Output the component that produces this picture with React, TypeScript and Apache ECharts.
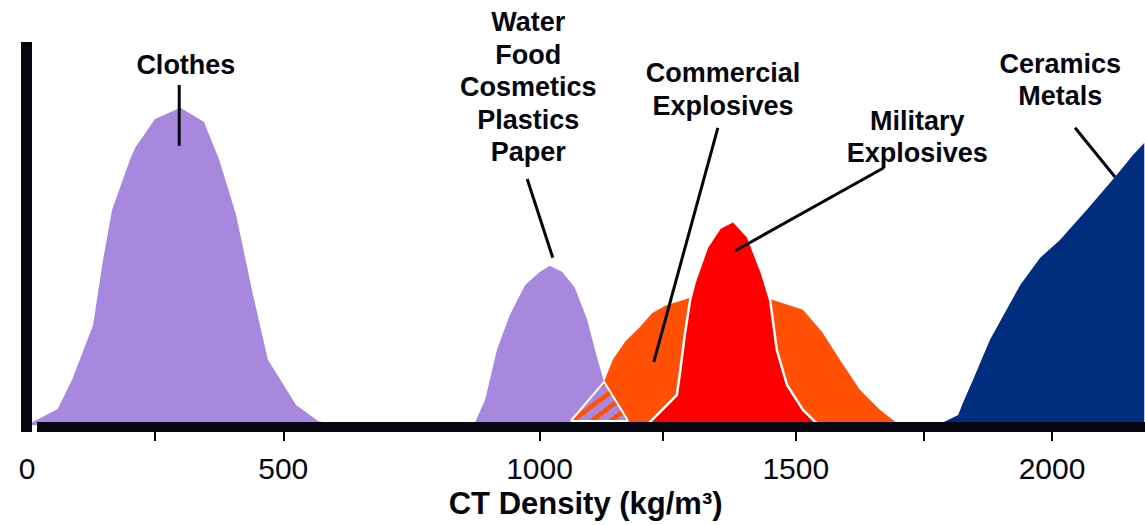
import React, { useEffect, useRef } from "react";
import * as echarts from "echarts";

const FONT = '"Liberation Sans", Arial, Helvetica, sans-serif';
const INK = "#05060f";
const PURPLE = "#a887df";
const ORANGE = "#ff5005";
const RED = "#ff0000";
const NAVY = "#002d7e";

// CT density (kg/m3) vs relative frequency (0-100)
const clothes: [number, number][] = [
  [0, 0], [60, 4], [88, 11.3], [129, 25], [148, 41], [166, 53.8], [201, 66.3], [211, 69.3],
  [250, 76.5], [299, 79.3], [345, 75.8], [375, 66.3], [408, 52.5], [441, 32.5], [470, 16.3],
  [525, 5], [568, 1], [600, 0],
];
const waterEtc: [number, number][] = [
  [872, 0], [894, 6.3], [917, 18.8], [942, 27.5], [972, 35], [1001, 38.3], [1020, 39.8],
  [1044, 38.3], [1069, 34.3], [1093, 26.3], [1112, 17], [1126, 10.8], [1173, 0],
];
const commercial: [number, number][] = [
  [1061, 0], [1126, 10.8], [1143, 16.3], [1167, 20.8], [1196, 24.5], [1220, 28], [1245, 29.8],
  [1294, 31.8], [1372, 32.3], [1454, 31.3], [1514, 28.8], [1551, 23.3], [1586, 16.3],
  [1625, 8.8], [1664, 3.8], [1694, 0.8], [1704, 0],
];
const overlap: [number, number][] = [[1061, 1], [1126, 10.8], [1173, 1], [1061, 1]];
const military: [number, number][] = [
  [1210, 0], [1216, 0.8], [1268, 7.5], [1274, 13], [1284, 23], [1294, 31.3], [1303, 35.8],
  [1327, 44.5], [1352, 49.3], [1378, 51], [1407, 47], [1434, 38], [1450, 31.3], [1463, 18.8],
  [1483, 10], [1514, 3.8], [1538, 0.8], [1545, 0],
];
const ceramics: [number, number][] = [
  [1762, 0], [1785, 0.5], [1817, 2.5], [1826, 5.5], [1846, 11.3], [1879, 21.3], [1938, 35],
  [1977, 41.8], [2016, 46.3], [2068, 53.8], [2123, 62], [2158, 67.5], [2180, 70.5],
];

const xTicks = [250, 500, 1000, 1240, 1500, 1750, 2000];
const xLabels = [0, 500, 1000, 1500, 2000];

const annotationTexts = [
  "Clothes",
  "Water\nFood\nCosmetics\nPlastics\nPaper",
  "Commercial\nExplosives",
  "Military\nExplosives",
  "Ceramics\nMetals",
];
const annotationAnchors: [number, number][] = [
  [310, 90], [978, 84.5], [1358, 83.9], [1737, 72], [2016, 86.3],
];
const leaderFrom: [number, number][] = [
  [297, 85], [976, 61.5], [1348, 74.3], [1672, 64.3], [2045, 74.3],
];
const leaderTo: [number, number][] = [
  [297, 69.8], [1026, 41.8], [1223, 15.8], [1381, 43.5], [2123, 62],
];

function stripeGradient() {
  const stops: { offset: number; color: string }[] = [];
  const n = 6;
  for (let i = 0; i < n; i++) {
    const a = i / n;
    const b = (i + 0.6) / n;
    const c = (i + 1) / n;
    stops.push({ offset: a, color: PURPLE }, { offset: b, color: PURPLE });
    stops.push({ offset: b, color: ORANGE }, { offset: c, color: ORANGE });
  }
  return new echarts.graphic.LinearGradient(0, 0, 1, 1, stops);
}

function area(name: string, data: [number, number][], color: any, line?: any) {
  return {
    name,
    type: "line",
    data,
    symbol: "none",
    silent: true,
    lineStyle: line || { width: 0 },
    areaStyle: { color, opacity: 1 },
  };
}

export default function App() {
  const ref = useRef<HTMLDivElement>(null);
  useEffect(() => {
    const chart = echarts.init(ref.current!, null, { renderer: "svg" });
    chart.setOption({
      animation: false,
      grid: { left: 27, right: 0.75, top: 25, bottom: 100 },
      xAxis: {
        type: "value",
        min: 0,
        max: 2180,
        axisLine: { show: false },
        splitLine: { show: false },
        axisTick: { show: true, customValues: xTicks, length: 16, lineStyle: { color: INK, width: 2 } },
        axisLabel: {
          customValues: xLabels,
          formatter: (v: number) => String(v),
          fontSize: 30,
          color: INK,
          fontFamily: FONT,
          margin: 28,
        },
        name: "CT Density (kg/m³)",
        nameLocation: "middle",
        nameGap: 62,
        nameTextStyle: { fontSize: 31, fontWeight: "bold", color: INK, fontFamily: FONT },
      },
      yAxis: { type: "value", min: 0, max: 100, show: false },
      series: [
        area("Clothes", clothes, PURPLE),
        area("Water, Food, Cosmetics, Plastics, Paper", waterEtc, PURPLE),
        area("Commercial Explosives", commercial, ORANGE),
        area("Overlap", overlap, stripeGradient(), { color: "#ffffff", width: 2 }),
        area("Military Explosives", military, RED, { color: "#ffffff", width: 2.5 }),
        area("Ceramics, Metals", ceramics, NAVY),
      ],
    });

    const px = (p: [number, number]) =>
      chart.convertToPixel({ xAxisIndex: 0, yAxisIndex: 0 }, p) as number[];
    const o = px([0, 0]);
    const yTop = px([0, 95.75]);
    const xStart = px([19.5, 0]);
    const graphic: any[] = [
      { type: "rect", z: 50, shape: { x: o[0] - 6, y: yTop[1], width: 11, height: o[1] + 7 - yTop[1] }, style: { fill: INK } },
      { type: "rect", z: 50, shape: { x: xStart[0], y: o[1] - 3, width: 1145 - xStart[0], height: 10 }, style: { fill: INK } },
    ];
    annotationTexts.forEach((t, i) => {
      const a = px(annotationAnchors[i]);
      const f = px(leaderFrom[i]);
      const e = px(leaderTo[i]);
      graphic.push({
        type: "text",
        z: 60,
        x: a[0],
        y: a[1],
        style: {
          text: t,
          fontSize: 27,
          fontWeight: "bold",
          fontFamily: FONT,
          fill: INK,
          lineHeight: 32.5,
          align: "center",
          verticalAlign: "middle",
        },
      });
      graphic.push({
        type: "line",
        z: 60,
        shape: { x1: f[0], y1: f[1], x2: e[0], y2: e[1] },
        style: { stroke: INK, lineWidth: 3 },
      });
    });
    chart.setOption({ graphic });
    return () => chart.dispose();
  }, []);
  return (
    <div
      ref={ref}
      style={{ position: "absolute", left: 0, top: 0, width: 1145, height: 525 }}
    />
  );
}
